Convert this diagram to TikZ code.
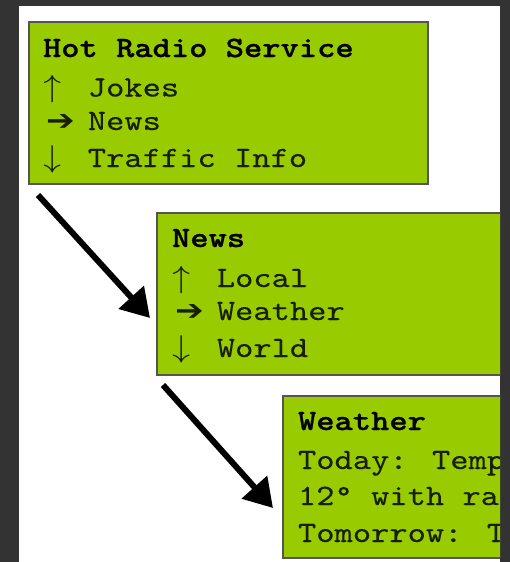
\documentclass[tikz,border=0pt]{standalone}
\usepackage{fontspec}
\newfontfamily\lcdfont{lmmono10-regular.otf}[FakeBold=0.25]
\newfontfamily\lcdboldfont{lmmonolt10-bold.otf}[FakeBold=0.8]
\newfontfamily\arrowfont{DejaVu Sans}
\newfontfamily\symfont{latinmodern-math.otf}
\usetikzlibrary{arrows.meta}
\definecolor{lcd}{HTML}{99CC00}
\definecolor{bgdark}{HTML}{333333}
\definecolor{framegray}{HTML}{555555}
\newcommand{\lcdline}[1]{\scalebox{1.18}[1]{#1}}
\newcommand{\upitem}[1]{\makebox[38pt][l]{{\symfont\fontsize{31}{31}\selectfont ↑}}#1}
\newcommand{\downitem}[1]{\makebox[38pt][l]{{\symfont\fontsize{31}{31}\selectfont ↓}}#1}
\newcommand{\selitem}[1]{\makebox[38pt][l]{\hspace{3pt}{\arrowfont\fontsize{29}{29}\selectfont ➔}}#1}
\begin{document}
\begin{tikzpicture}[x=1pt,y=-1pt,
  screen/.style={draw=framegray,line width=1.5pt,fill=lcd,anchor=north west,
    minimum width=#1,minimum height=162pt,inner sep=0pt,outer sep=0pt},
  lcdtext/.style={anchor=base west,inner sep=0pt,outer sep=0pt,
    font=\lcdfont\fontsize{29.5}{29.5}\selectfont,text=black!85!lcd},
  lcdtitle/.style={lcdtext,font=\lcdboldfont\fontsize{29.5}{29.5}\selectfont,text=black},
  bigarrow/.style={line width=6pt,-{Triangle[length=28pt,width=33pt]}}
]
\useasboundingbox (0,0) rectangle (510,562);
\fill[bgdark] (0,0) rectangle (510,562);
\fill[white] (19,6) rectangle (500,562);
\begin{scope}
\clip (19,6) rectangle (500,562);
% screen 1
\node[screen=399pt] (b1) at (29,22) {};
\node[lcdtitle] (t1) at (43,57) {\lcdline{Hot Radio Service}};
\node[lcdtext] (t1a) at (43,96.5) {\lcdline{\upitem{Jokes}}};
\node[lcdtext] (t1b) at (43,130) {\lcdline{\selitem{News}}};
\node[lcdtext] (t1c) at (43,167) {\lcdline{\downitem{Traffic Info}}};
% screen 2
\node[screen=400pt] (b2) at (157,213) {};
\node[lcdtitle] (t2) at (172,247) {\lcdline{News}};
\node[lcdtext] (t2a) at (172,287) {\lcdline{\upitem{Local}}};
\node[lcdtext] (t2b) at (172,320) {\lcdline{\selitem{Weather}}};
\node[lcdtext] (t2c) at (172,357) {\lcdline{\downitem{World}}};
% screen 3
\node[screen=400pt] (b3) at (283,396) {};
\node[lcdtitle] (t3) at (298,430) {\lcdline{Weather}};
\node[lcdtext] (t3a) at (298,469) {\lcdline{Today: Temp}};
\node[lcdtext] (t3b) at (298,505) {\lcdline{12° with ra}};
\node[lcdtext] (t3c) at (298,542) {\lcdline{Tomorrow: T}};
% arrows
\coordinate (a1s) at (38,195);
\coordinate (a1e) at (150,318);
\coordinate (a2s) at (163,385);
\coordinate (a2e) at (273,508);
\draw[bigarrow] (a1s) -- (a1e);
\draw[bigarrow] (a2s) -- (a2e);
\end{scope}
\end{tikzpicture}
\end{document}
